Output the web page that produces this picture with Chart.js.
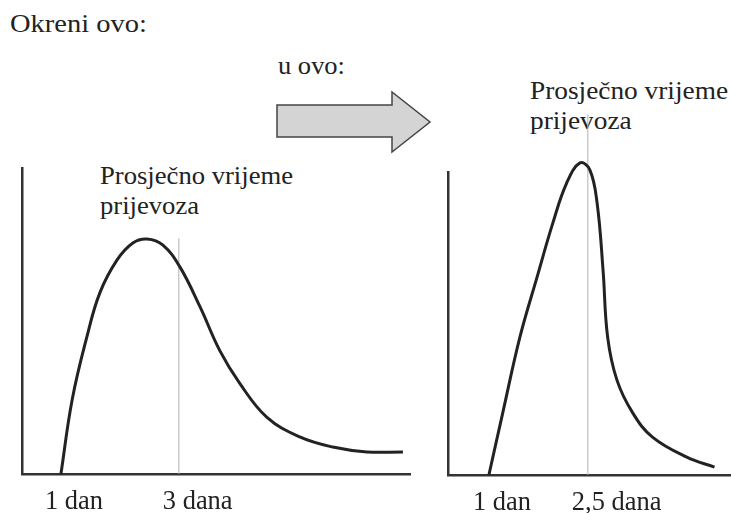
<!DOCTYPE html>
<html>
<head>
<meta charset="utf-8">
<script src="https://cdn.jsdelivr.net/npm/chart.js@4.4.1/dist/chart.umd.min.js"></script>
<style>
  body { margin: 0; background: #fff; width: 731px; height: 513px; position: relative; overflow: hidden;
         font-family: "Liberation Serif", "DejaVu Serif", serif; color: #222; }
  .t { position: absolute; font-size: 25px; line-height: 30px; white-space: nowrap; transform-origin: 0 0; }
  canvas { position: absolute; top: 0; }
</style>
</head>
<body>
<div class="t" data-w="137" style="left:10px;top:9px">Okreni ovo:</div>
<div class="t" data-w="67" style="left:278px;top:51px">u ovo:</div>
<svg style="position:absolute;left:0;top:0" width="731" height="513">
  <polygon points="277,105 392,105 392,92 430,122 392,152 392,137 277,137"
           fill="#d4d4d4" stroke="#444" stroke-width="1.5" />
</svg>
<div class="t" data-w="193" style="left:100px;top:161px">Prosječno vrijeme<br>prijevoza</div>
<div class="t" data-w="198" style="left:530px;top:76px">Prosječno vrijeme<br>prijevoza</div>

<canvas id="left" width="420" height="513" style="left:0"></canvas>
<canvas id="right" width="311" height="513" style="left:420px"></canvas>

<script>
// vrijeme prijevoza (dani) i relativna učestalost, prije
const leftDays   = [1.0, 1.19, 1.44, 1.66, 1.95, 2.22, 2.46, 2.73, 3.02, 3.36, 3.69, 4.03, 4.49, 5.05, 5.61, 6.19, 6.8];
const leftValues = [0, 24.2, 44.8, 59.2, 69.9, 75.5, 76.8, 74.8, 67.6, 54.6, 40.5, 29.7, 18.6, 12.1, 8.8, 7.2, 7.2];
const leftTicks  = [1, 3];
const leftTickLabels = ['1 dan', '3 dana'];
const leftMean = 3;
const leftMeanTop = 77;

// poslije
const rightDays   = [1.0, 1.21, 1.47, 1.73, 1.97, 2.18, 2.38, 2.53, 2.64, 2.73, 2.8, 2.94, 3.18, 3.48, 4.0, 4.42];
const rightValues = [0, 20.5, 45.5, 65.3, 83.2, 96.4, 103, 100.7, 89.8, 67.7, 45.5, 31.4, 20.5, 12.5, 5.9, 2.6];
const rightTicks  = [1, 2.5];
const rightTickLabels = ['1 dan', '2,5 dana'];
const rightMean = 2.5;
const rightMeanTop = 119;

const FONT = '"Liberation Serif", "DejaVu Serif", serif';

// squeeze each text block to the width measured on the reference
document.querySelectorAll('.t').forEach(el => {
  const target = +el.dataset.w;
  const span = document.createElement('span');
  span.style.cssText = 'position:absolute;visibility:hidden;white-space:nowrap;font-size:25px;font-family:' + FONT;
  span.textContent = el.firstChild.textContent;
  document.body.appendChild(span);
  const k = target / span.getBoundingClientRect().width;
  span.remove();
  el.style.transform = 'scaleX(' + k.toFixed(3) + ')';
});

const meas = document.createElement('canvas').getContext('2d');
meas.font = '26px ' + FONT;
const tickSize = 26 * 58 / meas.measureText('1 dan').width;

function makeChart(id, days, values, ticks, tickLabels, mean, meanTop, xMin, xMax, pad, axisH) {
  const ctx = document.getElementById(id).getContext('2d');
  return new Chart(ctx, {
    type: 'line',
    data: {
      datasets: [
        {
          data: days.map((d, i) => ({ x: d, y: values[i] })),
          borderColor: '#222',
          borderWidth: 3,
          pointRadius: 0,
          tension: 0.4,
          clip: false,
        },
        {
          data: [{ x: mean, y: 0 }, { x: mean, y: meanTop }],
          borderColor: '#b0b0b0',
          borderWidth: 1,
          pointRadius: 0,
          clip: false,
        },
      ],
    },
    options: {
      responsive: false,
      animation: false,
      events: [],
      layout: { padding: pad },
      plugins: { legend: { display: false }, tooltip: { enabled: false } },
      scales: {
        x: {
          type: 'linear',
          min: xMin,
          max: xMax,
          grid: { display: false, drawTicks: false },
          border: { color: '#333', width: 2.5 },
          afterBuildTicks: (scale) => { scale.ticks = ticks.map(v => ({ value: v })); },
          afterFit: (scale) => { scale.height = axisH; },
          ticks: {
            align: 'start',
            labelOffset: -16,
            padding: 12,
            color: '#222',
            font: { family: FONT, size: tickSize },
            callback: (v, i) => tickLabels[i],
          },
        },
        y: {
          min: 0,
          max: 100,
          grid: { display: false, drawTicks: false },
          border: { color: '#333', width: 2.5 },
          ticks: { display: false },
          afterFit: (scale) => { scale.width = 0; },
        },
      },
    },
  });
}

makeChart('left', leftDays, leftValues, leftTicks, leftTickLabels, leftMean, leftMeanTop,
  0.34, 6.92, { left: 22, top: 168, right: 10, bottom: 0 }, 39);
makeChart('right', rightDays, rightValues, rightTicks, rightTickLabels, rightMean, rightMeanTop,
  0.38, 4.67, { left: 28, top: 172, right: 0, bottom: 0 }, 38);
</script>
</body>
</html>
